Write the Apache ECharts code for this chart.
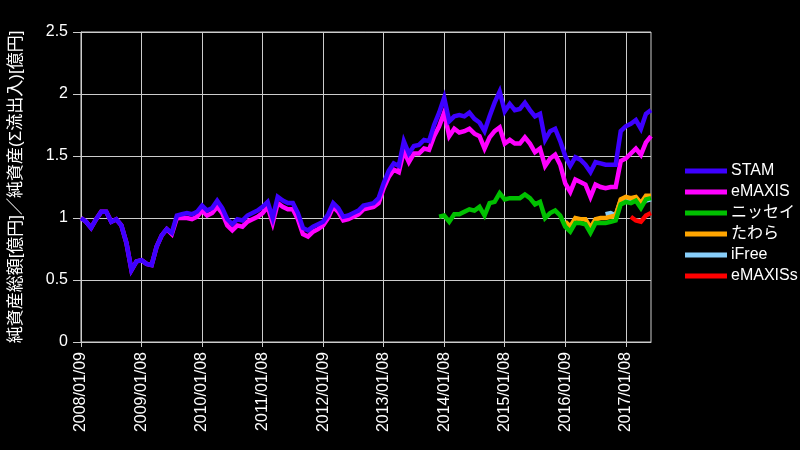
<!DOCTYPE html>
<html><head><meta charset="utf-8">
<script src="https://cdn.jsdelivr.net/npm/echarts@6/dist/echarts.min.js"></script>
<style>html,body{margin:0;padding:0;background:#000}#c{width:800px;height:450px}</style>
</head><body><div id="c"></div>
<script>
// monthly categories 2008/01 .. 2017/06
const months = [];
for (let y = 2008; y <= 2017; y++) {
  for (let m = 1; m <= 12; m++) {
    if (y === 2017 && m > 6) break;
    months.push(y + '/' + String(m).padStart(2, '0'));
  }
}
const tickLabels = ['2008/01/09','2009/01/08','2010/01/08','2011/01/08','2012/01/09',
                    '2013/01/08','2014/01/08','2015/01/08','2016/01/09','2017/01/08'];

const stam = [
  1.00,0.97,0.92,0.99,1.05,1.05,0.97,0.99,0.94,0.80,0.58,0.65,
  0.66,0.63,0.62,0.77,0.86,0.91,0.88,1.02,1.03,1.04,1.03,1.05,
  1.10,1.06,1.08,1.14,1.08,0.99,0.95,0.99,0.98,1.02,1.04,1.06,
  1.09,1.13,1.00,1.17,1.14,1.12,1.12,1.04,0.92,0.90,0.93,0.95,
  0.97,1.03,1.12,1.08,1.01,1.02,1.04,1.06,1.10,1.11,1.12,1.16,
  1.28,1.38,1.44,1.42,1.62,1.52,1.58,1.59,1.63,1.62,1.75,1.85,
  1.97,1.78,1.82,1.83,1.82,1.85,1.80,1.77,1.70,1.82,1.93,2.02,
  1.86,1.92,1.87,1.88,1.93,1.87,1.82,1.84,1.63,1.70,1.72,1.62,
  1.50,1.42,1.49,1.47,1.43,1.37,1.45,1.44,1.43,1.43,1.43,1.70,
  1.74,1.76,1.79,1.72,1.84,1.87
];
const emaxis = [
  1.00,0.97,0.92,0.99,1.05,1.05,0.97,0.99,0.94,0.80,0.58,0.65,
  0.66,0.63,0.62,0.77,0.86,0.91,0.87,1.00,1.00,1.00,0.99,1.01,
  1.06,1.02,1.04,1.09,1.04,0.94,0.90,0.94,0.93,0.97,0.99,1.01,
  1.04,1.09,0.96,1.12,1.09,1.07,1.07,0.99,0.87,0.85,0.89,0.91,
  0.94,1.00,1.09,1.05,0.98,0.99,1.01,1.03,1.07,1.08,1.09,1.12,
  1.24,1.33,1.39,1.37,1.54,1.45,1.52,1.52,1.56,1.55,1.66,1.74,
  1.85,1.66,1.72,1.69,1.70,1.72,1.68,1.66,1.56,1.65,1.70,1.73,
  1.60,1.63,1.60,1.60,1.65,1.60,1.53,1.56,1.42,1.48,1.51,1.43,
  1.28,1.21,1.31,1.29,1.27,1.17,1.27,1.25,1.24,1.25,1.25,1.46,
  1.48,1.52,1.56,1.51,1.61,1.66
];
// from 2013/12
const nisseiStart = '2013/12';
const nissei = [
  1.01,
  1.02,0.97,1.03,1.03,1.05,1.07,1.06,1.09,1.02,1.12,1.13,1.20,
  1.15,1.16,1.16,1.16,1.19,1.16,1.11,1.13,1.00,1.04,1.06,1.02,
  0.93,0.89,0.96,0.96,0.95,0.88,0.96,0.96,0.96,0.97,0.98,1.11,
  1.13,1.12,1.14,1.08,1.15,1.16
];
// from 2016/01
const tawaraStart = '2016/01';
const tawara = [0.97,0.93,1.00,0.99,0.99,0.92,0.99,1.00,1.00,1.01,1.02,1.15,
                1.17,1.16,1.17,1.12,1.18,1.18];
// from 2016/09
const ifreeStart = '2016/09';
const ifree = [1.03,1.04,1.02,1.14,1.16,1.15,1.16,1.11,1.14,1.15];
// from 2017/02
const emaxisSStart = '2017/02';
const emaxisS = [1.01,0.98,0.97,1.02,1.04];

function pad(start, vals) {
  const k = months.indexOf(start);
  return new Array(k).fill(null).concat(vals);
}

const FONT = "'Liberation Sans', Arial, 'Noto Sans CJK JP', sans-serif";
const chart = echarts.init(document.getElementById('c'));
const mk = (name, data, color, z) => ({
  name, type: 'line', data, z, symbol: 'none', showSymbol: false,
  lineStyle: { width: 4.5, color, join: 'miter' }, itemStyle: { color },
  connectNulls: false, animation: false
});
chart.setOption({
  backgroundColor: '#000',
  animation: false,
  textStyle: { fontFamily: FONT },
  grid: { left: 80, right: 149, top: 32, bottom: 108, show: true,
          borderColor: '#cccccc', borderWidth: 1, containLabel: false },
  legend: {
    orient: 'vertical', left: 685, top: 163, padding: 0,
    icon: 'rect', itemWidth: 42, itemHeight: 5, itemGap: 5,
    textStyle: { color: '#fff', fontSize: 16, fontFamily: FONT, lineHeight: 16, padding: [0, 0, 0, -1] },
    data: ['STAM','eMAXIS','ニッセイ','たわら','iFree','eMAXISs']
  },
  xAxis: {
    type: 'category', data: months, boundaryGap: false,
    axisLine: { show: true, lineStyle: { color: '#cccccc' } },
    axisTick: { show: true, interval: 11, length: 5, lineStyle: { color: '#cccccc' } },
    axisLabel: { interval: 11, rotate: 90, color: '#fff', fontSize: 16, margin: 10,
                 fontFamily: FONT,
                 formatter: (v, i) => tickLabels[Math.round(i / 12)] },
    splitLine: { show: true, interval: 11, lineStyle: { color: '#cccccc', width: 1 } }
  },
  yAxis: {
    type: 'value', min: 0, max: 2.5, interval: 0.5,
    name: '純資産総額[億円]／純資産(Σ流出入)[億円]',
    nameLocation: 'middle', nameGap: 56, nameRotate: 90,
    nameTextStyle: { color: '#fff', fontSize: 17, fontFamily: FONT },
    axisLine: { show: true, lineStyle: { color: '#cccccc' } },
    axisTick: { show: true, length: 8, lineStyle: { color: '#cccccc' } },
    axisLabel: { color: '#fff', fontSize: 16, margin: 13, fontFamily: FONT },
    splitLine: { show: true, lineStyle: { color: '#cccccc', width: 1 } }
  },
  series: [
    mk('STAM', stam, '#3d00ff', 10),
    mk('eMAXIS', emaxis, '#ff00ff', 9),
    mk('ニッセイ', pad(nisseiStart, nissei), '#00c000', 8),
    mk('たわら', pad(tawaraStart, tawara), '#ffa500', 7),
    mk('iFree', pad(ifreeStart, ifree), '#87cefa', 6),
    mk('eMAXISs', pad(emaxisSStart, emaxisS), '#ff0000', 5)
  ]
});
</script></body></html>
